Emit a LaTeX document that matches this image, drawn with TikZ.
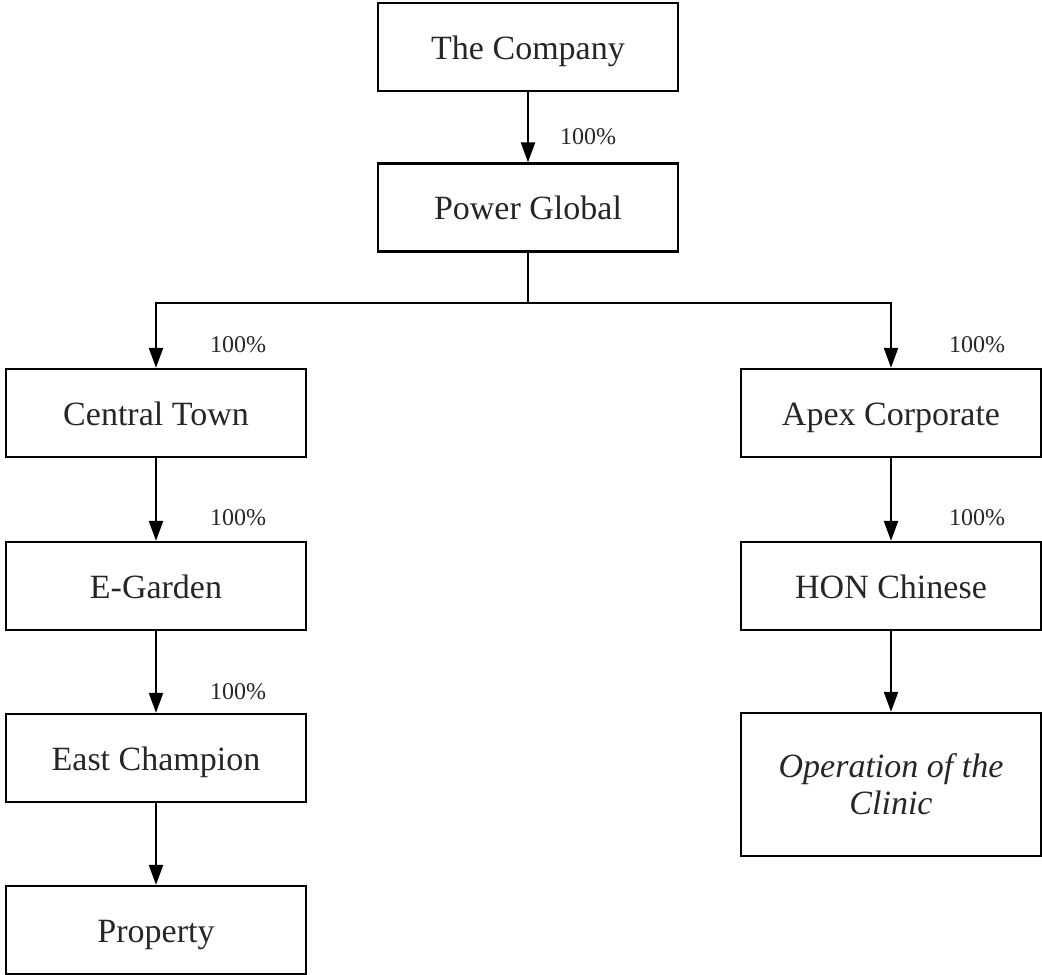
\documentclass[tikz,border=0pt]{standalone}
\usepackage{fontspec}
\setmainfont{Liberation Serif}
\usetikzlibrary{arrows.meta}
\begin{document}
\begin{tikzpicture}[x=1pt,y=-1pt,
  box/.style={draw, line width=2.3pt, minimum width=300pt, minimum height=88pt, inner sep=0pt,
    font=\fontsize{34}{38}\selectfont, text=black!85, align=center, text height=27pt, text depth=3pt},
  conn/.style={line width=2.3pt},
  arr/.style={conn, -{Triangle[length=20pt,width=14pt]}},
  pct/.style={font=\fontsize{24}{28}\selectfont, text=black!85, inner sep=0pt}]
\useasboundingbox (0,0) rectangle (1042,975);
\node[box] (co) at (528,47) {The Company};
\node[box] (pg) at (528,207.5) {Power Global};
\node[box] (ct) at (156,413) {Central Town};
\node[box] (ap) at (891,413) {Apex Corporate};
\node[box] (eg) at (156,586) {E-Garden};
\node[box] (hon) at (891,586) {HON Chinese};
\node[box] (ec) at (156,758) {East Champion};
\node[box, minimum height=143pt, text height=, text depth=] (cl) at (891,784.5) {\itshape Operation of the\\[-1pt]\itshape Clinic};
\node[box] (pr) at (156,930) {Property};
\draw[arr] (co) -- (pg);
\draw[conn] (pg.south) -- ++(0,50) coordinate (split);
\draw[arr] (split) -| (ct.north);
\draw[arr] (split) -| (ap.north);
\draw[arr] (ct) -- (eg);
\draw[arr] (eg) -- (ec);
\draw[arr] (ec) -- (pr);
\draw[arr] (ap) -- (hon);
\draw[arr] (hon) -- (cl);
\node[pct] (l1) at (588,137) {100\%};
\node[pct] (l2) at (238,345) {100\%};
\node[pct] (l3) at (977,345) {100\%};
\node[pct] (l4) at (238,518) {100\%};
\node[pct] (l5) at (977,518) {100\%};
\node[pct] (l6) at (238,692) {100\%};
\end{tikzpicture}
\end{document}
